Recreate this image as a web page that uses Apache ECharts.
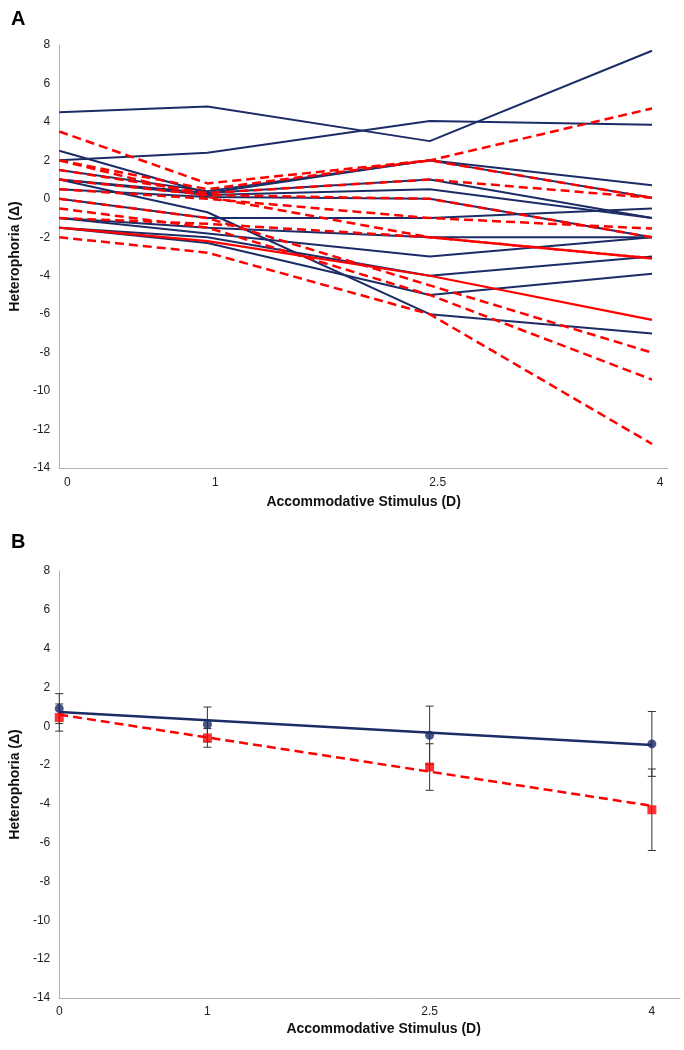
<!DOCTYPE html>
<html><head><meta charset="utf-8">
<script src="https://cdn.jsdelivr.net/npm/echarts@6/dist/echarts.min.js"></script>
<style>html,body{margin:0;padding:0;background:#fff}#c{width:684px;height:1050px}</style>
</head><body><div id="c"></div>
<script>
// ---------- data ----------
const xValues = [0, 1, 2.5, 4];
const xTickLabels = [0, 1, 2.5, 4];
const yTicks = { min: -14, max: 8, interval: 2 };

// Panel A: individual participants (values at 0, 1, 2.5, 4 D)
const navyLines = [
  [4.5, 4.8, 3.0, 7.7],
  [2.0, 2.4, 4.05, 3.85],
  [2.5, 0.3, 2.0, 0.7],
  [1.5, 0.4, 2.0, 0.05],
  [1.0, 0.3, 1.0, -1.0],
  [1.0, 0.2, 0.5, -1.0],
  [0.5, 0.1, 0.0, -2.0],
  [1.0, -0.7, -6.0, -7.0],
  [0.0, -1.0, -1.0, -0.5],
  [-1.0, -1.5, -2.0, -2.0],
  [-1.0, -1.8, -3.0, -2.0],
  [-1.5, -2.0, -4.0, -3.0],
  [-1.5, -2.3, -5.0, -3.9]
];
const redDashedLines = [
  [3.5, 0.8, 2.0, 4.7],
  [2.0, 0.5, 2.0, 0.05],
  [1.5, 0.3, 1.0, 0.05],
  [1.0, 0.2, 0.0, -2.0],
  [0.5, 0.0, -1.0, -1.55],
  [2.0, 0.1, -2.0, -3.1],
  [0.0, -1.0, -4.5, -8.0],
  [-0.5, -1.5, -5.0, -9.4],
  [-2.0, -2.8, -6.0, -12.75],
  [-1.0, -1.3, -2.0, -3.1]
];
const redSolidLine = [-1.5, -2.2, -4.0, -6.3];

// Panel B: group means and SD
const navyMean = [0.91, 0.09, -0.46, -0.91];
const navySD = [0.77, 0.9, 1.5, 1.67];
const redMean = [0.45, -0.6, -2.1, -4.3];
const redSD = [0.7, 0.48, 1.2, 2.1];
const trendX = [0, 4];
const navyTrend = [0.74, -0.96];
const redTrend = [0.6, -4.1];

// ---------- styles ----------
const NAVY = '#1c2c66';
const RED = '#ff0000';
const FONT = 'Liberation Sans, Arial, sans-serif';

function pairs(xs, ys) { return xs.map((x, i) => [x, ys[i]]); }

function xAxisDef(gridIndex, max, nameGap, labelPad, margin, namePad) {
  return {
    type: 'value', gridIndex, min: 0, max,
    name: 'Accommodative Stimulus (D)', nameLocation: 'middle', nameGap,
    nameTextStyle: { fontFamily: FONT, fontWeight: 'bold', fontSize: 14, color: '#111', padding: namePad },
    axisLine: { show: true, onZero: false, lineStyle: { color: '#b0b0b0', width: 1 } },
    axisTick: { show: false },
    splitLine: { show: false },
    axisLabel: { customValues: xTickLabels, fontFamily: FONT, fontSize: 12, color: '#222', margin, padding: labelPad,
      formatter: v => String(v) }
  };
}
function yAxisDef(gridIndex) {
  return {
    type: 'value', gridIndex, min: yTicks.min, max: yTicks.max, interval: yTicks.interval,
    name: 'Heterophoria (Δ)', nameLocation: 'middle', nameGap: 36,
    nameTextStyle: { fontFamily: FONT, fontWeight: 'bold', fontSize: 14, color: '#111' },
    axisLine: { show: true, onZero: false, lineStyle: { color: '#b0b0b0', width: 1 } },
    axisTick: { show: false },
    splitLine: { show: false },
    axisLabel: { fontFamily: FONT, fontSize: 12, color: '#222', margin: 9 }
  };
}

const series = [];
navyLines.forEach((ys) => series.push({
  type: 'line', xAxisIndex: 0, yAxisIndex: 0, data: pairs(xValues, ys), showSymbol: false, silent: true,
  lineStyle: { color: NAVY, width: 2 }, z: 2
}));
redDashedLines.forEach((ys) => series.push({
  type: 'line', xAxisIndex: 0, yAxisIndex: 0, data: pairs(xValues, ys), showSymbol: false, silent: true,
  lineStyle: { color: RED, width: 2.5, type: [9, 5] }, z: 3
}));
series.push({
  type: 'line', xAxisIndex: 0, yAxisIndex: 0, data: pairs(xValues, redSolidLine), showSymbol: false, silent: true,
  lineStyle: { color: RED, width: 2.2 }, z: 3
});

// Panel B
function errData(mean, sd) { return xValues.map((x, i) => [x, mean[i] - sd[i], mean[i] + sd[i]]); }
function errRender(params, api) {
  const x = api.value(0), lo = api.value(1), hi = api.value(2);
  const a = api.coord([x, hi]), b = api.coord([x, lo]);
  const w = 4;
  const st = { stroke: '#333', lineWidth: 1 };
  return { type: 'group', children: [
    { type: 'line', shape: { x1: a[0], y1: a[1], x2: b[0], y2: b[1] }, style: st },
    { type: 'line', shape: { x1: a[0] - w, y1: a[1], x2: a[0] + w, y2: a[1] }, style: st },
    { type: 'line', shape: { x1: b[0] - w, y1: b[1], x2: b[0] + w, y2: b[1] }, style: st }
  ]};
}
series.push({ type: 'line', xAxisIndex: 1, yAxisIndex: 1, data: pairs(trendX, navyTrend), showSymbol: false, silent: true,
  lineStyle: { color: NAVY, width: 2.5 }, z: 2 });
series.push({ type: 'line', xAxisIndex: 1, yAxisIndex: 1, data: pairs(trendX, redTrend), showSymbol: false, silent: true,
  lineStyle: { color: RED, width: 2.5, type: [9, 5] }, z: 2 });
series.push({ type: 'custom', xAxisIndex: 1, yAxisIndex: 1, data: errData(navyMean, navySD), renderItem: errRender, z: 4, silent: true });
series.push({ type: 'custom', xAxisIndex: 1, yAxisIndex: 1, data: errData(redMean, redSD), renderItem: errRender, z: 4, silent: true });
series.push({ type: 'scatter', xAxisIndex: 1, yAxisIndex: 1, data: pairs(xValues, navyMean), symbol: 'circle', symbolSize: 9,
  itemStyle: { color: NAVY }, z: 5, silent: true });
series.push({ type: 'scatter', xAxisIndex: 1, yAxisIndex: 1, data: pairs(xValues, redMean), symbol: 'rect', symbolSize: 9,
  itemStyle: { color: RED }, z: 5, silent: true });

const chart = echarts.init(document.getElementById('c'), null, { renderer: 'canvas' });
chart.setOption({
  animation: false,
  backgroundColor: '#fff',
  title: [
    { text: 'A', left: 6, top: 4, textStyle: { fontFamily: FONT, fontWeight: 'bold', fontSize: 20, color: '#000' } },
    { text: 'B', left: 6, top: 527, textStyle: { fontFamily: FONT, fontWeight: 'bold', fontSize: 20, color: '#000' } }
  ],
  grid: [
    { left: 58, top: 45, width: 610, height: 423 },
    { left: 58, top: 571, width: 622, height: 427 }
  ],
  xAxis: [
    xAxisDef(0, 4.108, 27, [0, 0, 0, 16], 9, [0, 0, 0, 0]),
    xAxisDef(1, 4.19, 24, [0, 0, 0, 0], 8, [0, 0, 0, 28])
  ],
  yAxis: [yAxisDef(0), yAxisDef(1)],
  series
});
</script></body></html>
